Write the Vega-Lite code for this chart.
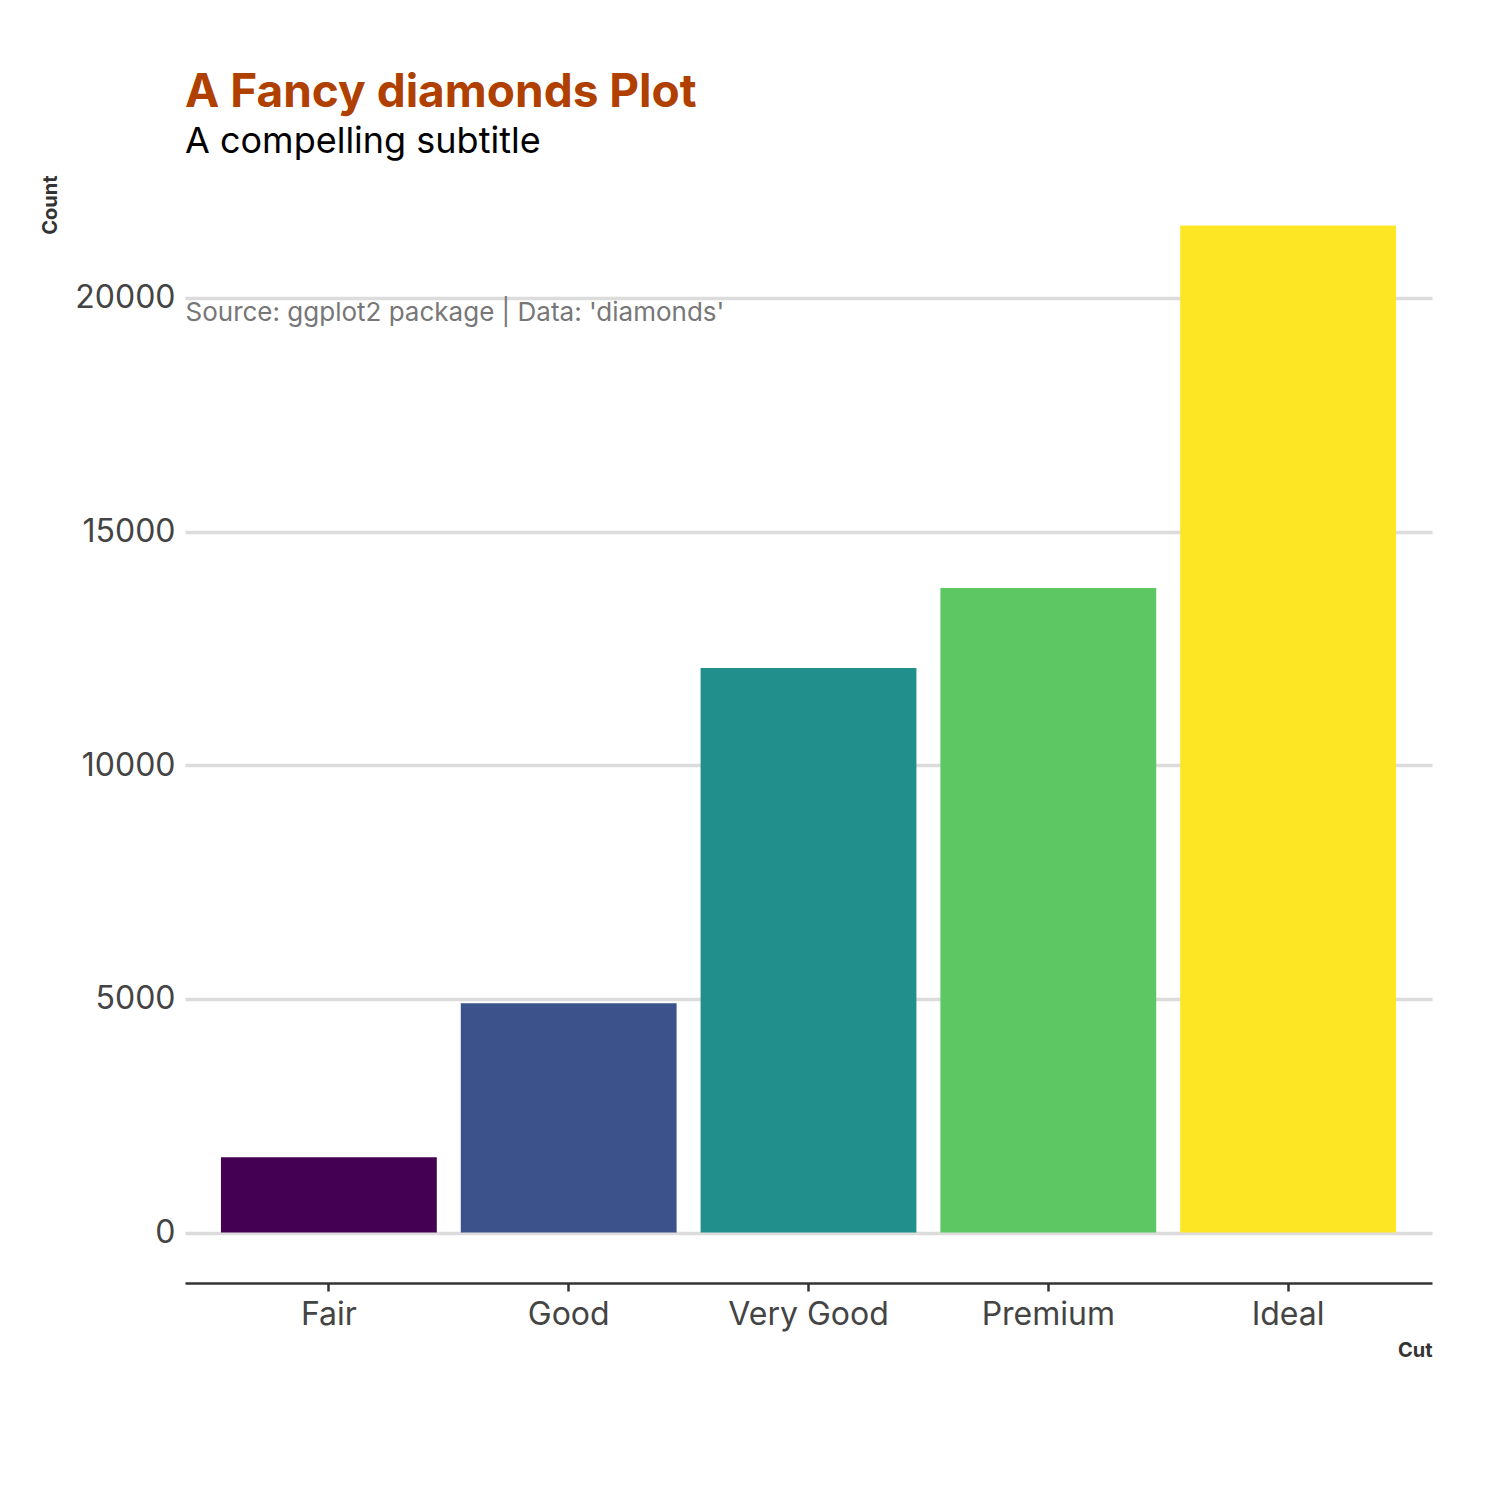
{
"$schema":"https://vega.github.io/schema/vega-lite/v6.json",
"width":1247,"height":1108,
"padding":{"left":40,"top":70,"right":60,"bottom":40},
"background":"white",
"config":{"view":{"stroke":null},"font":"Inter"},
"title":{"text":"A Fancy diamonds Plot","subtitle":"A compelling subtitle","anchor":"start","frame":"group","font":"Inter","fontSize":46,"fontWeight":"bold","color":"#B04000","subtitleFont":"Inter","subtitleFontSize":36,"subtitleColor":"black","subtitlePadding":8,"offset":14},
"data":{"values":[
{"cut":"Fair","count":1610},{"cut":"Good","count":4906},{"cut":"Very Good","count":12082},{"cut":"Premium","count":13791},{"cut":"Ideal","count":21551}]},
"layer":[
{"mark":{"type":"bar"},
"encoding":{
"x":{"field":"cut","type":"nominal","sort":null,"scale":{"paddingInner":0.1,"paddingOuter":0.15},
"axis":{"title":"Cut","titleAnchor":"end","titleFontSize":20,"titleFontWeight":"bold","titleColor":"#333","titlePadding":10,"labelAngle":0,"labelFontSize":32,"labelColor":"#444","labelPadding":8,"domainColor":"#333","domainWidth":2.5,"tickColor":"#333","tickWidth":2.5,"tickSize":8,"grid":false}},
"y":{"field":"count","type":"quantitative","scale":{"domain":[-1078,22629],"nice":false,"zero":false},
"axis":{"title":"Count","titleAnchor":"end","titleFontSize":20,"titleFontWeight":"bold","titleColor":"#333","titlePadding":14,"values":[0,5000,10000,15000,20000],"format":"d","labelFontSize":32,"labelColor":"#444","labelPadding":10,"domain":false,"ticks":false,"gridColor":"#dcdcdc","gridWidth":3.5}},
"y2":{"datum":0},
"color":{"field":"cut","type":"nominal","sort":null,"legend":null,"scale":{"range":["#440154","#3B528B","#21908C","#5DC863","#FDE725"]}}
}},
{"mark":{"type":"bar","opacity":0},
"encoding":{
"x":{"field":"cut","type":"nominal","sort":null,
"axis":{"title":"Source: ggplot2 package | Data: 'diamonds'","titleAnchor":"start","titleFontSize":26,"titleFontWeight":"normal","titleColor":"#777","titlePadding":0,"titleY":150,"labels":false,"ticks":false,"domain":false,"grid":false}},
"y":{"field":"count","type":"quantitative"}
}}
],
"resolve":{"axis":{"x":"independent"}}
}
